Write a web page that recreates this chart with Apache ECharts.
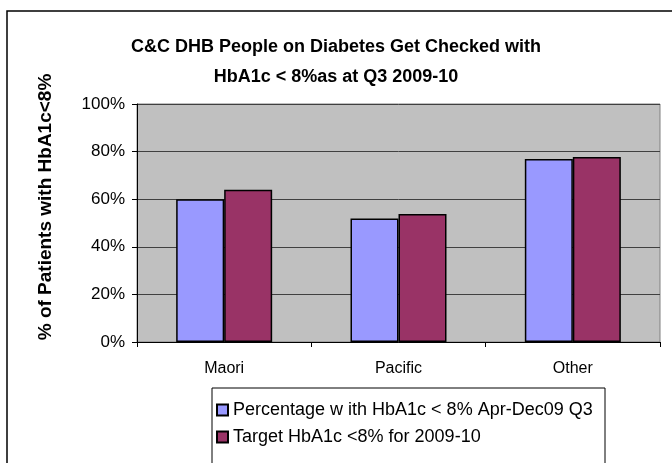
<!DOCTYPE html>
<html>
<head>
<meta charset="utf-8">
<script src="https://cdn.jsdelivr.net/npm/echarts@6/dist/echarts.min.js"></script>
<style>
  html, body { margin: 0; padding: 0; background: #fff; }
  #main { width: 672px; height: 463px; }
</style>
</head>
<body>
<div id="main"></div>
<script>
  // categories and values
  var groups = ['Maori', 'Pacific', 'Other'];
  var actual = [60.0, 51.9, 76.9];
  var target = [64.0, 53.8, 77.7];
  var yTicks = [0, 20, 40, 60, 80, 100];

  var seriesNames = ['Percentage w ith HbA1c < 8% Apr-Dec09 Q3', 'Target HbA1c <8% for 2009-10'];
  var font = 'Liberation Sans, Arial, sans-serif';

  var myChart = echarts.init(document.getElementById('main'));
  var option = {
    animation: false,
    backgroundColor: '#fff',
    textStyle: { fontFamily: font },
    title: {
      text: 'C&C DHB People on Diabetes Get Checked with\nHbA1c < 8%as at Q3 2009-10',
      left: 'center',
      top: 27,
      textStyle: { fontSize: 18, fontWeight: 'bold', color: '#000', lineHeight: 30, fontFamily: font }
    },
    graphic: [
      {
        // outer frame, clipped on right/bottom like the source
        type: 'rect',
        shape: { x: 7, y: 11, width: 700, height: 500 },
        style: { fill: 'none', stroke: '#000', lineWidth: 1.5 },
        z: -1
      },
      {
        // legend box
        type: 'rect',
        shape: { x: 212, y: 388, width: 393, height: 100 },
        style: { fill: '#fff', stroke: '#000', lineWidth: 1 },
        z: -1
      }
    ],
    grid: {
      left: 137, right: 12, top: 104, bottom: 121,
      show: true,
      backgroundColor: '#c0c0c0',
      borderColor: '#808080',
      borderWidth: 1
    },
    legend: {
      orient: 'vertical',
      left: 212,
      top: 397,
      data: seriesNames,
      icon: 'rect',
      itemWidth: 11,
      itemHeight: 11,
      itemGap: 9,
      padding: [4, 4, 4, 4],
      textStyle: { fontSize: 18, color: '#000', fontFamily: font }
    },
    xAxis: {
      type: 'category',
      data: groups,
      axisLine: { lineStyle: { color: '#000', width: 1 } },
      axisTick: { show: true, length: 5, lineStyle: { color: '#000' } },
      axisLabel: { fontSize: 16, color: '#000', margin: 19 },
      splitLine: { show: false }
    },
    yAxis: {
      type: 'value',
      min: yTicks[0],
      max: yTicks[yTicks.length - 1],
      interval: 20,
      name: '% of Patients with HbA1c<8%',
      nameLocation: 'middle',
      nameGap: 82,
      nameTextStyle: { fontSize: 19, fontWeight: 'bold', color: '#000', padding: [0, 0, 0, 32] },
      axisLine: { show: true, lineStyle: { color: '#000', width: 1 } },
      axisTick: { show: true, length: 5, lineStyle: { color: '#000' } },
      axisLabel: { fontSize: 17, color: '#000', margin: 12, formatter: '{value}%' },
      splitLine: { show: true, lineStyle: { color: '#404040', width: 1 } }
    },
    series: [
      {
        name: seriesNames[0],
        type: 'bar',
        data: actual,
        barWidth: 48,
        barGap: '0%',
        itemStyle: { color: '#9999ff', borderColor: '#000', borderWidth: 1.5 }
      },
      {
        name: seriesNames[1],
        type: 'bar',
        data: target,
        barWidth: 48,
        itemStyle: { color: '#993366', borderColor: '#000', borderWidth: 1.5 }
      }
    ]
  };
  myChart.setOption(option);
</script>
</body>
</html>
